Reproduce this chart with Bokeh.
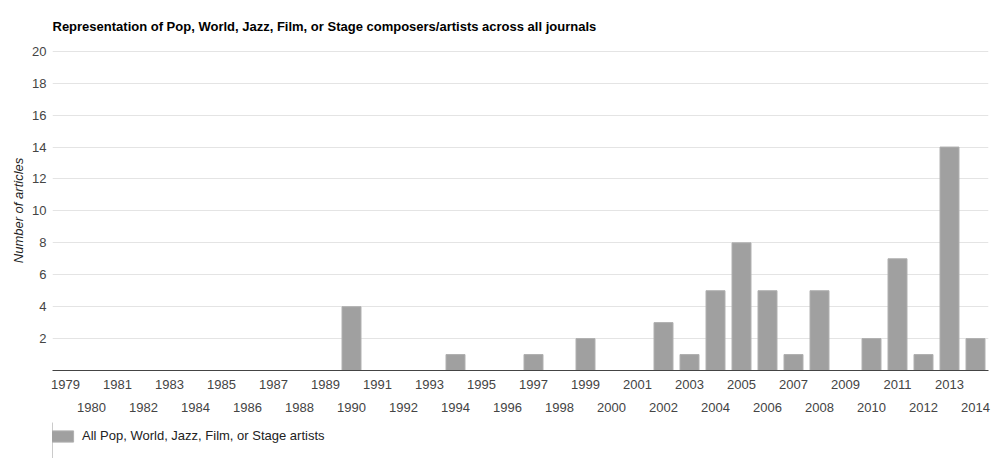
from bokeh.plotting import figure
from bokeh.layouts import column
from bokeh.models import (LinearAxis, FixedTicker, Legend, LegendItem, Range1d, ColumnDataSource)
from bokeh.embed import file_html
from bokeh.resources import INLINE

years = list(range(1979, 2015))
vals = {1990: 4, 1994: 1, 1997: 1, 1999: 2, 2002: 3, 2003: 1, 2004: 5, 2005: 8,
        2006: 5, 2007: 1, 2008: 5, 2010: 2, 2011: 7, 2012: 1, 2013: 14, 2014: 2}
counts = [vals.get(y, 0) for y in years]
y_ticks = [2, 4, 6, 8, 10, 12, 14, 16, 18, 20]
odd_years = [y for y in years if y % 2 == 1]
even_years = [y for y in years if y % 2 == 0]
title_text = "Representation of Pop, World, Jazz, Film, or Stage composers/artists across all journals"
series_name = "All Pop, World, Jazz, Film, or Stage artists"

FONT = "Liberation Sans"
TXT = "#444444"
BAR_FILL = "#a0a0a0"
BAR_LINE = "#b0b0b0"

p = figure(width=1000, height=422, output_backend="svg", toolbar_location=None,
           x_range=Range1d(1978.5, 2014.5), y_range=Range1d(0, 20.05),
           min_border_left=52, min_border_right=12, min_border_top=49, min_border_bottom=52,
           x_axis_location=None)
p.outline_line_color = None
p.background_fill_color = "white"
p.border_fill_color = "white"

p.title.text = title_text
p.title.text_font = FONT
p.title.text_font_size = "13px"
p.title.text_font_style = "bold"
p.title.text_color = "#000000"
p.title.align = "left"
p.title.standoff = 33

src = ColumnDataSource(dict(x=years, top=counts))
r = p.vbar(x="x", top="top", width=0.73, source=src, fill_color=BAR_FILL, line_color=BAR_LINE)

# y axis
ya = p.yaxis[0]
ya.ticker = FixedTicker(ticks=y_ticks)
ya.axis_line_color = None
ya.major_tick_line_color = None
ya.minor_tick_line_color = None
ya.major_tick_out = 0
ya.major_tick_in = 0
ya.minor_tick_out = 0
ya.major_label_text_font = FONT
ya.major_label_text_font_size = "13px"
ya.major_label_text_color = TXT
ya.major_label_standoff = 6
ya.axis_label = "Number of articles"
ya.axis_label_text_font = FONT
ya.axis_label_text_font_size = "13px"
ya.axis_label_text_font_style = "italic"
ya.axis_label_text_color = "#222222"
ya.axis_label_standoff = 3

p.ygrid.ticker = FixedTicker(ticks=y_ticks)
p.ygrid.grid_line_color = "#e4e4e4"
p.xgrid.grid_line_color = None

# x axes: two rows of labels
ax1 = LinearAxis(ticker=FixedTicker(ticks=odd_years))
ax2 = LinearAxis(ticker=FixedTicker(ticks=even_years))
for ax in (ax1, ax2):
    ax.major_tick_line_color = None
    ax.minor_tick_line_color = None
    ax.major_label_text_font = FONT
    ax.major_label_text_font_size = "13px"
    ax.major_label_text_color = TXT
ax1.axis_line_color = "#444444"
ax1.axis_line_width = 1
ax1.major_label_standoff = 3
ax2.axis_line_color = None
ax2.major_label_standoff = 5
p.add_layout(ax1, "below")
p.add_layout(ax2, "below")

# legend strip below the chart
lg = figure(width=1000, height=36, output_backend="svg", toolbar_location=None,
            x_range=Range1d(0, 1), y_range=Range1d(0, 1),
            x_axis_location=None, y_axis_location=None,
            min_border_left=0, min_border_right=0, min_border_top=0, min_border_bottom=0)
lg.outline_line_color = None
lg.xgrid.grid_line_color = None
lg.ygrid.grid_line_color = None
lr = lg.vbar(x=[-50], top=[1], width=0.73, fill_color=BAR_FILL, line_color=BAR_LINE)
legend = Legend(items=[LegendItem(label=series_name, renderers=[lr])],
                location=(-5, 15), orientation="horizontal",
                glyph_width=29, glyph_height=14, label_height=14, label_text_font=FONT,
                label_text_font_size="13px", label_text_color="#222222",
                border_line_color=None, background_fill_alpha=0,
                padding=6, margin=0, label_standoff=6)
lg.add_layout(legend)

layout = column(p, lg, spacing=0)
open("out.html", "w").write(file_html(layout, INLINE))
